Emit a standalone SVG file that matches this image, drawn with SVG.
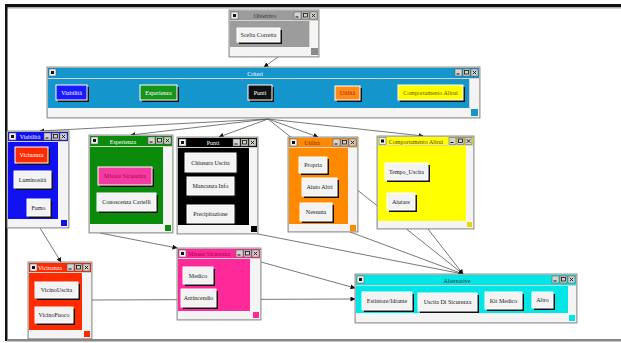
<svg xmlns="http://www.w3.org/2000/svg" xmlns:xlink="http://www.w3.org/1999/xlink" width="621" height="343" viewBox="0 0 621 343">
<style>
.frame{fill:#d6d3ce;stroke:#7a7a7a;stroke-width:0.8}
.sb{fill:#f4f4f4}
.hb{fill:#f4f4f4}
.face{fill:#f3f3f3;stroke:#ffffff;stroke-width:1}
.sh{fill:#111}
.bt{font-family:"Liberation Serif",serif;font-size:6px;fill:#222;text-anchor:middle}
.tt{font-family:"Liberation Serif",serif;font-size:6px;text-anchor:middle}
.w{fill:#fff}
.k{fill:#222}
.edge{stroke:#555;stroke-width:0.8;fill:none;marker-end:url(#ah)}
</style>
<defs>
<marker id="ah" viewBox="0 0 10 10" refX="9" refY="5" markerWidth="5" markerHeight="5" orient="auto" markerUnits="userSpaceOnUse">
<path d="M0,0 L10,5 L0,10 z" fill="#111"/>
</marker>
<g id="ico">
<rect x="0" y="0" width="7" height="7" fill="#eee" stroke="#555" stroke-width="0.5"/>
<rect x="2" y="2" width="3" height="3" fill="#111"/>
</g>
<g id="wb">
<rect x="0" y="0" width="7" height="7" fill="#d6d3ce" stroke="#555" stroke-width="0.5"/>
<rect x="1.5" y="4.5" width="3" height="1" fill="#111"/>
<rect x="8" y="0" width="7" height="7" fill="#d6d3ce" stroke="#555" stroke-width="0.5"/>
<rect x="9.5" y="1.5" width="4" height="3.5" fill="none" stroke="#111" stroke-width="0.8"/>
<rect x="16" y="0" width="7" height="7" fill="#d6d3ce" stroke="#555" stroke-width="0.5"/>
<path d="M17.8,1.8 L21.2,5.2 M21.2,1.8 L17.8,5.2" stroke="#111" stroke-width="0.9"/>
</g>
</defs>
<rect x="0" y="0" width="621" height="343" fill="#fff"/>
<rect x="5" y="4" width="616" height="3" fill="#111"/>
<rect x="7" y="7" width="614" height="1.5" fill="#aaa"/>
<rect x="5" y="4" width="2.5" height="337" fill="#111"/>
<rect x="7" y="339" width="614" height="2.5" fill="#888"/>

<g id="connectors">
<line class="edge" x1="278" y1="57" x2="264" y2="67"/>
<line class="edge" x1="268" y1="119" x2="40" y2="131"/>
<line class="edge" x1="268" y1="119" x2="131" y2="135"/>
<line class="edge" x1="268" y1="119" x2="219" y2="137"/>
<line class="edge" x1="268" y1="119" x2="318" y2="137"/>
<line class="edge" x1="268" y1="119" x2="423" y2="136"/>
<line class="edge" x1="268" y1="119" x2="463" y2="274"/>
<line class="edge" x1="40" y1="228" x2="61" y2="262"/>
<line class="edge" x1="100" y1="233" x2="177" y2="248"/>
<line class="edge" x1="92" y1="300" x2="355" y2="299"/>
<line class="edge" x1="261" y1="262" x2="355" y2="288"/>
<line class="edge" x1="258" y1="234" x2="463" y2="274"/>
<line class="edge" x1="350" y1="232" x2="463" y2="274"/>
<line class="edge" x1="428" y1="229" x2="463" y2="274"/>
</g>

<g id="n-obiettivo">
<rect class="frame" x="229" y="10" width="90" height="47"/>
<rect x="230" y="11" width="88" height="9" fill="#9c9c9c"/>
<use xlink:href="#ico" x="231" y="12"/>
<use xlink:href="#wb" x="294" y="12"/>
<text class="tt" x="265" y="18" fill="#333">Obiettivo</text>
<rect x="230" y="21" width="79" height="26" fill="#9c9c9c"/>
<rect class="sb" x="310" y="21" width="8" height="26"/>
<rect class="hb" x="230" y="47" width="88" height="9"/>
<rect x="311" y="48" width="7" height="7" fill="#8a8a8a"/>
<rect class="sh" x="239" y="30" width="43" height="14"/>
<rect class="face" x="237" y="28" width="43" height="14"/>
<text class="bt" x="258.5" y="37">Scelta Corretta</text>
</g>

<g id="n-criteri">
<rect class="frame" x="47" y="67" width="433" height="51"/>
<rect x="48" y="68" width="431" height="10" fill="#1496cc"/>
<use xlink:href="#ico" x="49" y="69"/>
<use xlink:href="#wb" x="455" y="69"/>
<text class="tt" x="255" y="75.5" fill="#fff">Criteri</text>
<rect x="48" y="79" width="421" height="29" fill="#1496cc"/>
<rect class="sb" x="470" y="79" width="9" height="29"/>
<rect class="hb" x="48" y="108" width="431" height="9"/>
<rect x="471" y="109" width="7" height="7" fill="#1496cc"/>
<rect class="sh" x="58" y="87" width="31" height="15"/>
<rect class="face" x="56" y="85" width="31" height="15" style="fill:#1a1aff"/>
<text class="bt" x="71.5" y="94.5" fill="#fff" style="fill:#fff">Viabilità</text>
<rect class="sh" x="142" y="87" width="37" height="15"/>
<rect class="face" x="140" y="85" width="37" height="15" style="fill:#17951a"/>
<text class="bt" x="158.5" y="94.5" style="fill:#fff">Esperienza</text>
<rect class="sh" x="250" y="87" width="24" height="15"/>
<rect class="face" x="248" y="85" width="24" height="15" style="fill:#111"/>
<text class="bt" x="260" y="94.5" style="fill:#fff">Punti</text>
<rect class="sh" x="337" y="88" width="25" height="14"/>
<rect class="face" x="335" y="86" width="25" height="14" style="fill:#ff8c1a"/>
<text class="bt" x="347.5" y="95" style="fill:#a02000">Utilità</text>
<rect class="sh" x="400" y="87" width="65" height="15"/>
<rect class="face" x="398" y="85" width="65" height="15" style="fill:#ffff00"/>
<text class="bt" x="430.5" y="94.5" style="fill:#6a5000">Comportamento Altrui</text>
</g>

<g id="n-viabilita">
<rect class="frame" x="7" y="131" width="62" height="97"/>
<rect x="8" y="132" width="60" height="9" fill="#1010f0"/>
<use xlink:href="#ico" x="9" y="133"/>
<use xlink:href="#wb" x="44" y="133"/>
<text class="tt" x="30" y="139" fill="#fff">Viabilità</text>
<rect x="8" y="142" width="50" height="77" fill="#1010f0"/>
<rect class="sb" x="58" y="142" width="10" height="77"/>
<rect class="hb" x="8" y="219" width="60" height="8"/>
<rect x="61" y="220" width="6" height="6" fill="#1010f0"/>
<rect class="sh" x="17" y="149" width="33" height="16"/>
<rect class="face" x="15" y="147" width="33" height="16" style="fill:#ff2a00"/>
<text class="bt" x="31.5" y="157" style="fill:#fff">Vicinanza</text>
<rect class="sh" x="16" y="173" width="37" height="17"/>
<rect class="face" x="14" y="171" width="37" height="17"/>
<text class="bt" x="32.5" y="181.5">Luminosità</text>
<rect class="sh" x="29" y="201" width="23" height="17"/>
<rect class="face" x="27" y="199" width="23" height="17"/>
<text class="bt" x="38.5" y="209.5">Fumo</text>
</g>

<g id="n-esperienza">
<rect class="frame" x="89" y="135" width="84" height="98"/>
<rect x="90" y="136" width="82" height="10" fill="#0a8c0a"/>
<use xlink:href="#ico" x="91" y="137"/>
<use xlink:href="#wb" x="148" y="137"/>
<text class="tt" x="123" y="143.5" fill="#fff">Esperienza</text>
<rect x="90" y="147" width="73" height="77" fill="#0a8c0a"/>
<rect class="sb" x="163" y="147" width="9" height="77"/>
<rect class="hb" x="90" y="224" width="82" height="8"/>
<rect x="165" y="225" width="6" height="6" fill="#0a8c0a"/>
<rect class="sh" x="100" y="169" width="54" height="18"/>
<rect class="face" x="98" y="167" width="54" height="18" style="fill:#f43ca0"/>
<text class="bt" x="125" y="178" style="fill:#b0005a">Misure Sicurezza</text>
<rect class="sh" x="99" y="195" width="59" height="18"/>
<rect class="face" x="97" y="193" width="59" height="18"/>
<text class="bt" x="126.5" y="204">Conoscenza Cartelli</text>
</g>

<g id="n-punti">
<rect class="frame" x="177" y="137" width="81" height="97"/>
<rect x="178" y="138" width="79" height="9" fill="#000"/>
<use xlink:href="#ico" x="179" y="139"/>
<use xlink:href="#wb" x="233" y="139"/>
<text class="tt" x="213" y="145" fill="#fff">Punti</text>
<rect x="178" y="148" width="71" height="77" fill="#000"/>
<rect class="sb" x="249" y="148" width="8" height="77"/>
<rect class="hb" x="178" y="225" width="79" height="8"/>
<rect x="251" y="226" width="6" height="6" fill="#000"/>
<rect class="sh" x="187" y="155" width="51" height="19"/>
<rect class="face" x="185" y="153" width="51" height="19"/>
<text class="bt" x="210.5" y="164.5">Chiusura Uscita</text>
<rect class="sh" x="189" y="179" width="47" height="18"/>
<rect class="face" x="187" y="177" width="47" height="18"/>
<text class="bt" x="210.5" y="188">Mancanza Info</text>
<rect class="sh" x="189" y="207" width="47" height="18"/>
<rect class="face" x="187" y="205" width="47" height="18"/>
<text class="bt" x="210.5" y="216">Precipitazione</text>
</g>

<g id="n-utilita">
<rect class="frame" x="288" y="137" width="70" height="95"/>
<rect x="289" y="138" width="68" height="9" fill="#ff8a00"/>
<use xlink:href="#ico" x="290" y="139"/>
<use xlink:href="#wb" x="333" y="139"/>
<text class="tt" x="312" y="145" fill="#8a2000">Utilità</text>
<rect x="289" y="148" width="59" height="76" fill="#ff8a00"/>
<rect class="sb" x="348" y="148" width="9" height="76"/>
<rect class="hb" x="289" y="224" width="68" height="7"/>
<rect x="350" y="225" width="6" height="6" fill="#ff8a00"/>
<rect class="sh" x="301" y="159" width="28" height="16"/>
<rect class="face" x="299" y="157" width="28" height="16"/>
<text class="bt" x="313" y="167">Propria</text>
<rect class="sh" x="304" y="180" width="35" height="18"/>
<rect class="face" x="302" y="178" width="35" height="18"/>
<text class="bt" x="319.5" y="189">Aiuto Altri</text>
<rect class="sh" x="302" y="205" width="32" height="18"/>
<rect class="face" x="300" y="203" width="32" height="18"/>
<text class="bt" x="316" y="214">Nessuna</text>
</g>

<g id="n-comportamento">
<rect class="frame" x="377" y="136" width="97" height="93"/>
<rect x="378" y="137" width="95" height="8" fill="#ffff00"/>
<use xlink:href="#ico" x="379" y="137.5"/>
<use xlink:href="#wb" x="449" y="137.5"/>
<text class="tt" x="416" y="143.5" fill="#5a4a00">Comportamento Altrui</text>
<rect x="378" y="146" width="88" height="75" fill="#ffff00"/>
<rect class="sb" x="466" y="146" width="7" height="75"/>
<rect class="hb" x="378" y="221" width="95" height="7"/>
<rect x="467" y="222" width="5" height="5" fill="#e8d800"/>
<rect class="sh" x="387" y="165" width="43" height="17"/>
<rect class="face" x="385" y="163" width="43" height="17"/>
<text class="bt" x="406.5" y="173.5">Tempo_Uscita</text>
<rect class="sh" x="389" y="195" width="28" height="17"/>
<rect class="face" x="387" y="193" width="28" height="17"/>
<text class="bt" x="401" y="203.5">Aiutare</text>
</g>

<g id="n-vicinanza">
<rect class="frame" x="28" y="262" width="64" height="77"/>
<rect x="29" y="263" width="62" height="9" fill="#ff2a00"/>
<use xlink:href="#ico" x="30" y="264"/>
<use xlink:href="#wb" x="67" y="264"/>
<text class="tt" x="50" y="270" fill="#fff">Vicinanza</text>
<rect x="29" y="273" width="53" height="57" fill="#ff2a00"/>
<rect class="sb" x="82" y="273" width="9" height="57"/>
<rect class="hb" x="29" y="330" width="62" height="8"/>
<rect x="84" y="331" width="6" height="6" fill="#ff2a00"/>
<rect class="sh" x="37" y="284" width="43" height="16"/>
<rect class="face" x="35" y="282" width="43" height="16"/>
<text class="bt" x="56.5" y="292">VicinoUscita</text>
<rect class="sh" x="37" y="309" width="38" height="16"/>
<rect class="face" x="35" y="307" width="38" height="16"/>
<text class="bt" x="54" y="317">VicinoFuoco</text>
</g>

<g id="n-misure">
<rect class="frame" x="177" y="248" width="84" height="72"/>
<rect x="178" y="249" width="82" height="9" fill="#ff2a9a"/>
<use xlink:href="#ico" x="179" y="250"/>
<use xlink:href="#wb" x="236" y="250"/>
<text class="tt" x="209" y="256" fill="#a8004a">Misure Sicurezza</text>
<rect x="178" y="259" width="72" height="52" fill="#ff2a9a"/>
<rect class="sb" x="250" y="259" width="10" height="52"/>
<rect class="hb" x="178" y="311" width="82" height="8"/>
<rect x="253" y="312" width="6" height="6" fill="#ff2a9a"/>
<rect class="sh" x="185" y="269" width="30" height="17"/>
<rect class="face" x="183" y="267" width="30" height="17"/>
<text class="bt" x="198" y="277.5">Medico</text>
<rect class="sh" x="183" y="291" width="35" height="18"/>
<rect class="face" x="181" y="289" width="35" height="18"/>
<text class="bt" x="198.5" y="300">Antincendio</text>
</g>

<g id="n-alternative">
<rect class="frame" x="355" y="274" width="222" height="49"/>
<rect x="356" y="275" width="220" height="10" fill="#00e5e5"/>
<use xlink:href="#ico" x="357" y="276"/>
<use xlink:href="#wb" x="552" y="276"/>
<text class="tt" x="457" y="282.5" fill="#333">Alternative</text>
<rect x="356" y="286" width="212" height="27" fill="#00e5e5"/>
<rect class="sb" x="568" y="286" width="8" height="27"/>
<rect class="hb" x="356" y="313" width="220" height="9"/>
<rect x="569" y="315" width="6" height="6" fill="#00e5e5"/>
<rect class="sh" x="364" y="294" width="50" height="18"/>
<rect class="face" x="362" y="292" width="50" height="18"/>
<text class="bt" x="387" y="303">Estintore/Idrante</text>
<rect class="sh" x="420" y="295" width="59" height="18"/>
<rect class="face" x="418" y="293" width="59" height="18"/>
<text class="bt" x="447.5" y="304">Uscita Di Sicurezza</text>
<rect class="sh" x="487" y="294" width="37" height="17"/>
<rect class="face" x="485" y="292" width="37" height="17"/>
<text class="bt" x="503.5" y="302.5">Kit Medico</text>
<rect class="sh" x="534" y="294" width="21" height="16"/>
<rect class="face" x="532" y="292" width="21" height="16"/>
<text class="bt" x="542.5" y="302">Altro</text>
</g>
</svg>
